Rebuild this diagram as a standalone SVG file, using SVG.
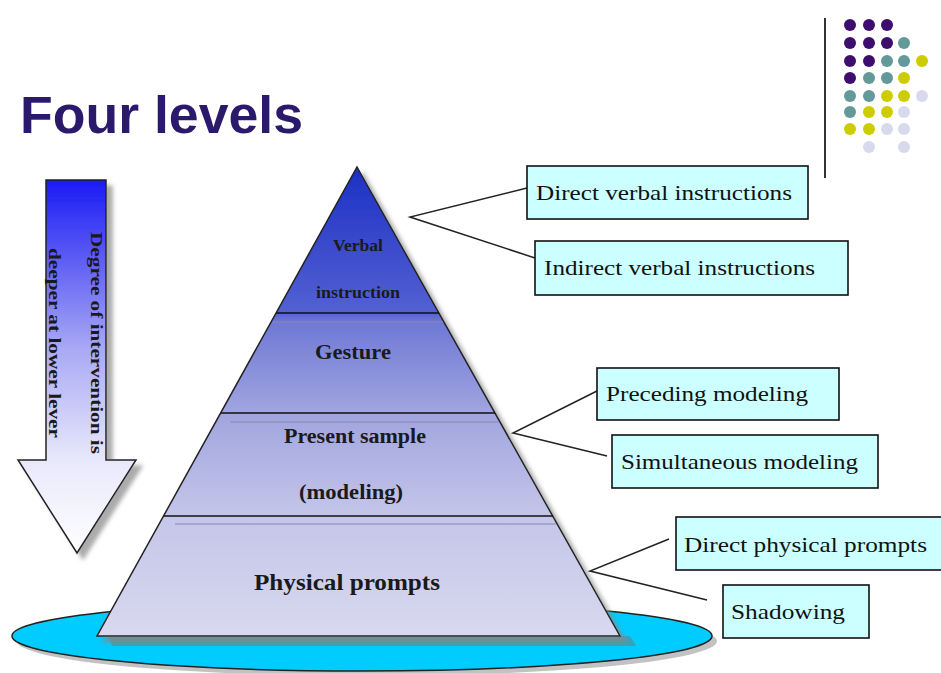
<svg xmlns="http://www.w3.org/2000/svg" width="941" height="673" viewBox="0 0 941 673">
<defs>
<linearGradient id="pyr" x1="0" y1="167" x2="0" y2="636" gradientUnits="userSpaceOnUse">
<stop offset="0" stop-color="#1C30C4"/>
<stop offset="0.31" stop-color="#5361D2"/>
<stop offset="0.33" stop-color="#6E78D6"/>
<stop offset="0.52" stop-color="#A0A4DF"/>
<stop offset="0.75" stop-color="#C5C6E9"/>
<stop offset="1" stop-color="#D8D8EF"/>
</linearGradient>
<linearGradient id="arr" x1="0" y1="180" x2="0" y2="553" gradientUnits="userSpaceOnUse">
<stop offset="0" stop-color="#1A1AF5"/>
<stop offset="0.45" stop-color="#A8A8F5"/>
<stop offset="0.75" stop-color="#E8E8FB"/>
<stop offset="1" stop-color="#FFFFFF"/>
</linearGradient>
<filter id="sh" x="-20%" y="-20%" width="150%" height="150%">
<feDropShadow dx="6" dy="6" stdDeviation="2" flood-color="#888" flood-opacity="0.7"/>
</filter>
</defs>
<style>
.box{fill:#CCFFFF;stroke:#111;stroke-width:1.6}
.bt{font-family:"Liberation Serif","Times New Roman",serif;font-size:22px;fill:#111}
.pt{font-family:"Liberation Serif","Times New Roman",serif;font-weight:bold;fill:#1a1a1a;text-anchor:middle}
.con{stroke:#222;stroke-width:1.5;fill:none}
.div{stroke:#111;stroke-width:1.6}
.thin{stroke:#8888AA;stroke-width:1.2}
.p{fill:#3E0E6E}.t{fill:#639999}.y{fill:#CCCC00}.l{fill:#D9D9EE}
</style>

<g id="title">
<text x="20" y="133" font-family="Liberation Sans, Arial, sans-serif" font-weight="bold" font-size="51" fill="#2B1A6B" textLength="283" lengthAdjust="spacingAndGlyphs">Four levels</text>
</g>

<g id="logo">
<line x1="825" y1="18" x2="825" y2="178" stroke="#333" stroke-width="2"/>
<circle class="p" cx="850" cy="25" r="6"/><circle class="p" cx="869" cy="25" r="6"/><circle class="p" cx="887" cy="25" r="6"/>
<circle class="p" cx="850" cy="43" r="6"/><circle class="p" cx="869" cy="43" r="6"/><circle class="p" cx="887" cy="43" r="6"/><circle class="t" cx="904" cy="43" r="6"/>
<circle class="p" cx="850" cy="61" r="6"/><circle class="p" cx="869" cy="61" r="6"/><circle class="t" cx="887" cy="61" r="6"/><circle class="t" cx="904" cy="61" r="6"/><circle class="y" cx="922" cy="61" r="6"/>
<circle class="p" cx="850" cy="78" r="6"/><circle class="t" cx="869" cy="78" r="6"/><circle class="t" cx="887" cy="78" r="6"/><circle class="y" cx="904" cy="78" r="6"/>
<circle class="t" cx="850" cy="96" r="6"/><circle class="t" cx="869" cy="96" r="6"/><circle class="y" cx="887" cy="96" r="6"/><circle class="y" cx="904" cy="96" r="6"/><circle class="l" cx="922" cy="96" r="6"/>
<circle class="t" cx="850" cy="112" r="6"/><circle class="y" cx="869" cy="112" r="6"/><circle class="y" cx="887" cy="112" r="6"/><circle class="l" cx="904" cy="112" r="6"/>
<circle class="y" cx="850" cy="129" r="6"/><circle class="y" cx="869" cy="129" r="6"/><circle class="l" cx="887" cy="129" r="6"/><circle class="l" cx="904" cy="129" r="6"/>
<circle class="l" cx="869" cy="147" r="6"/><circle class="l" cx="904" cy="147" r="6"/>
</g>

<g id="arrow">
<path d="M46,180 H106 V460 H136 L77,553 L18,460 H46 Z" fill="url(#arr)" stroke="#222" stroke-width="1.5" filter="url(#sh)"/>
<text class="pt" font-size="16" transform="translate(91,343) rotate(90)" textLength="222" lengthAdjust="spacingAndGlyphs">Degree of intervention is</text>
<text class="pt" font-size="16" transform="translate(49,343) rotate(90)" textLength="190" lengthAdjust="spacingAndGlyphs">deeper at lower lever</text>
</g>

<g id="base">
<ellipse cx="367" cy="641" rx="350" ry="35" fill="#999" opacity="0.6"/>
<ellipse cx="362" cy="636" rx="350" ry="35" fill="#00CCFF" stroke="#222" stroke-width="1.5"/>
<polygon points="108,636 630,636 636,646 112,646" fill="#3A9FB8"/>
</g>

<g id="pyramid">
<polygon points="357,167 620,636 97,636" fill="url(#pyr)" stroke="#222" stroke-width="1.5" filter="url(#sh)"/>
<line class="div" x1="276" y1="313" x2="439" y2="313"/>
<line class="div" x1="221" y1="413" x2="495" y2="413"/>
<line class="div" x1="164" y1="516" x2="553" y2="516"/>
<line class="thin" x1="273" y1="322" x2="443" y2="322"/>
<line class="thin" x1="230" y1="422" x2="498" y2="422"/>
<line class="thin" x1="175" y1="524" x2="556" y2="524"/>
</g>

<g id="lvl-verbal">
<text class="pt" x="358" y="251" font-size="16" textLength="50" lengthAdjust="spacingAndGlyphs">Verbal</text>
<text class="pt" x="358" y="298" font-size="16" textLength="84" lengthAdjust="spacingAndGlyphs">instruction</text>
</g>
<g id="lvl-gesture">
<text class="pt" x="353" y="359" font-size="20" textLength="76" lengthAdjust="spacingAndGlyphs">Gesture</text>
</g>
<g id="lvl-present">
<text class="pt" x="355" y="443" font-size="20" textLength="142" lengthAdjust="spacingAndGlyphs">Present sample</text>
<text class="pt" x="351" y="499" font-size="20" textLength="104" lengthAdjust="spacingAndGlyphs">(modeling)</text>
</g>
<g id="lvl-physical">
<text class="pt" x="347" y="590" font-size="24" textLength="186" lengthAdjust="spacingAndGlyphs">Physical prompts</text>
</g>

<g id="connectors">
<polyline class="con" points="527,188 410,217 535,258"/>
<polyline class="con" points="597,391 513,433 607,456"/>
<polyline class="con" points="669,539 590,571 707,600"/>
</g>

<g id="n-direct-verbal">
<rect class="box" x="527" y="166" width="281" height="53"/>
<text class="bt" x="536" y="200" textLength="256" lengthAdjust="spacingAndGlyphs">Direct verbal instructions</text>
</g>
<g id="n-indirect-verbal">
<rect class="box" x="535" y="241" width="313" height="54"/>
<text class="bt" x="544" y="275" textLength="271" lengthAdjust="spacingAndGlyphs">Indirect verbal instructions</text>
</g>
<g id="n-preceding">
<rect class="box" x="597" y="368" width="242" height="52"/>
<text class="bt" x="606" y="401" textLength="202" lengthAdjust="spacingAndGlyphs">Preceding modeling</text>
</g>
<g id="n-simultaneous">
<rect class="box" x="612" y="435" width="266" height="53"/>
<text class="bt" x="621" y="469" textLength="237" lengthAdjust="spacingAndGlyphs">Simultaneous modeling</text>
</g>
<g id="n-direct-physical">
<rect class="box" x="676" y="517" width="270" height="53"/>
<text class="bt" x="684" y="552" textLength="243" lengthAdjust="spacingAndGlyphs">Direct physical prompts</text>
</g>
<g id="n-shadowing">
<rect class="box" x="723" y="585" width="146" height="53"/>
<text class="bt" x="731" y="619" textLength="114" lengthAdjust="spacingAndGlyphs">Shadowing</text>
</g>
</svg>
